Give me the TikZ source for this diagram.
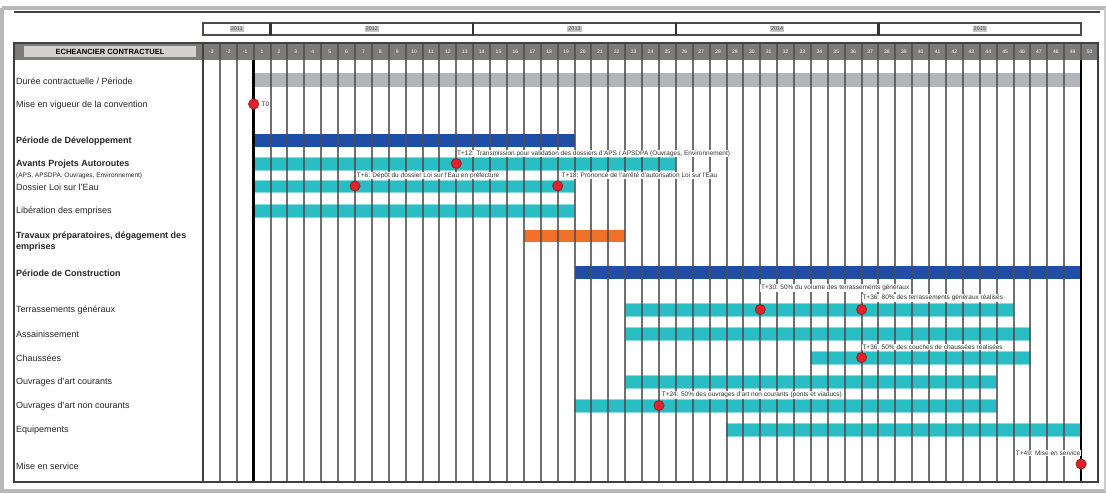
\documentclass[tikz,border=0pt]{standalone}
\usepackage{fontspec}
\setmainfont{Liberation Sans}
\definecolor{cyanbar}{RGB}{40,190,196}
\definecolor{bluebar}{RGB}{30,78,168}
\definecolor{orangebar}{RGB}{240,112,40}
\definecolor{graybar}{RGB}{178,182,186}
\definecolor{gridc}{RGB}{80,76,76}
\definecolor{dotred}{RGB}{228,32,45}
\definecolor{dotrim}{RGB}{150,40,40}
\definecolor{hdr}{RGB}{125,122,122}
\def\W{16.887}
\begin{document}
\begin{tikzpicture}[x=1pt,y=-1pt,
  lab/.style={anchor=west, inner sep=0, font=\fontsize{9}{11}\selectfont, text=black!85},
  labb/.style={lab, font=\fontsize{9}{11}\selectfont\bfseries},
  labs/.style={lab, font=\fontsize{6.5}{7}\selectfont},
  mlab/.style={anchor=west, inner sep=0.7, fill=white, font=\fontsize{6.5}{7}\selectfont, text=black!80},
  dot/.style={circle, minimum size=10, inner sep=0, fill=dotred, draw=dotrim, line width=1},
  gridline/.style={draw=gridc, line width=2, opacity=0.8},
  thickline/.style={draw=black, line width=2.4},
  framec/.style={draw=black!75, line width=2},
  mnum/.style={font=\fontsize{5}{5}\selectfont, text=white, inner sep=0},
  ylab/.style={font=\fontsize{5.5}{6}\selectfont, text=black!70, fill=gray!45, inner sep=1},
  cbar/.style={fill=cyanbar, draw=cyanbar!55, line width=1}]
\useasboundingbox (0,0) rectangle (1106,493);
% outer gray frame
\draw[gray!55, line width=4] (2,8) -- (1106,8);
\draw[gray!55, line width=4.5] (2,8) -- (2,493);
\draw[gray!55, line width=4] (0,491) -- (1106,491);
\draw[gray!40, line width=2] (1105,8) -- (1105,491);
% top line
\draw[framec, line width=1.5] (14,12) -- (1100,12);
% year bar
\draw[draw=black!70, line width=2, fill=white] (203,23) rectangle ({203+52*\W},35);
\foreach \k in {4,16,28,40}{
  \draw[black!80, line width=2.4] ({203+\k*\W},23) -- ({203+\k*\W},35);
}
\node[ylab] (y1) at ({203+2*\W},29) {2011};
\node[ylab] (y2) at ({203+10*\W},29) {2012};
\node[ylab] (y3) at ({203+22*\W},29) {2013};
\node[ylab] (y4) at ({203+34*\W},29) {2014};
\node[ylab] (y5) at ({203+46*\W},29) {2015};
% header row
\fill[hdr] (14,43) rectangle ({203+53*\W},60);
\node[fill=gray!35, inner sep=0, minimum height=11, minimum width=172, font=\fontsize{7.5}{8}\selectfont\bfseries, text=black] (hd) at (110,51.5) {ECHEANCIER CONTRACTUEL};
% bars
\fill[graybar] ({203+3*\W},73) rectangle ({203+52*\W},87);
\fill[bluebar] ({203+3*\W},134) rectangle ({203+22*\W},147);
\filldraw[cbar] ({203+3*\W},157) rectangle ({203+28*\W},170);
\filldraw[cbar] ({203+3*\W},180) rectangle ({203+22*\W},192);
\filldraw[cbar] ({203+3*\W},204) rectangle ({203+22*\W},217);
\fill[orangebar] ({203+19*\W},230) rectangle ({203+25*\W},242);
\fill[bluebar] ({203+22*\W},266) rectangle ({203+52*\W},279);
\filldraw[cbar] ({203+25*\W},303) rectangle ({203+48*\W},316);
\filldraw[cbar] ({203+25*\W},327) rectangle ({203+49*\W},340);
\filldraw[cbar] ({203+36*\W},351) rectangle ({203+49*\W},364);
\filldraw[cbar] ({203+25*\W},375) rectangle ({203+47*\W},388);
\filldraw[cbar] ({203+22*\W},399) rectangle ({203+47*\W},412);
\filldraw[cbar] ({203+31*\W},423) rectangle ({203+52*\W},436);
% grid lines
\foreach \k in {0,...,53}{
  \draw[gridline] ({203+\k*\W},43) -- ({203+\k*\W},482);
}
\draw[thickline] ({203+3*\W},60) -- ({203+3*\W},482);
\draw[thickline] ({203+52*\W},60) -- ({203+52*\W},482);
% month numbers
\foreach \k in {0,...,52}{
  \pgfmathtruncatemacro\m{\k<3 ? \k-3 : \k-2}
  \node[mnum] (m\k) at ({203+(\k+0.5)*\W},51.5) {\m};
}
% frame
\draw[framec] (14,43) rectangle ({203+53*\W},482);
\draw[framec] (203,43) -- (203,482);
% left labels
\node[lab] (l1) at (16,81) {Durée contractuelle / Période};
\node[lab] (l2) at (16,105) {Mise en vigueur de la convention};
\node[labb] (l3) at (16,141) {Période de Développement};
\node[labb] (l4) at (16,164) {Avants Projets Autoroutes};
\node[labs] (l4b) at (16,175.5) {(APS, APSDPA, Ouvrages, Environnement)};
\node[lab] (l5) at (16,187) {Dossier Loi sur l'Eau};
\node[lab] (l6) at (16,211) {Libération des emprises};
\node[labb, align=left] (l7) at (16,242) {Travaux préparatoires, dégagement des\\emprises};
\node[labb] (l8) at (16,273) {Période de Construction};
\node[lab] (l9) at (16,310) {Terrassements généraux};
\node[lab] (l10) at (16,334) {Assainissement};
\node[lab] (l11) at (16,358) {Chaussées};
\node[lab] (l12) at (16,382) {Ouvrages d'art courants};
\node[lab] (l13) at (16,406) {Ouvrages d'art non courants};
\node[lab] (l14) at (16,430) {Equipements};
\node[lab] (l15) at (16,466) {Mise en service};
% milestone labels
\node[mlab] (t0) at ({203+3*\W+7},104.5) {T0};
\node[mlab] (t12) at ({203+15*\W},153.5) {T+12: Transmission pour validation des dossiers d'APS / APSDPA (Ouvrages, Environnement)};
\node[mlab] (t6) at ({203+9*\W+1},175.5) {T+6: Dépôt du dossier Loi sur l'Eau en préfecture};
\node[mlab] (t18) at ({203+21*\W+3},175.5) {T+18: Prononcé de l'arrêté d'autorisation Loi sur l'Eau};
\node[mlab] (t30) at ({203+33*\W},288) {T+30: 50\% du volume des terrassements généraux};
\node[mlab] (t36) at ({203+39*\W},298) {T+36: 80\% des terrassements généraux réalisés};
\node[mlab] (t36c) at ({203+39*\W},347) {T+36: 50\% des couches de chaussées réalisées};
\node[mlab] (t24) at ({203+27*\W+2},395) {T+24: 50\% des ouvrages d'art non courants (ponts et viaducs)};
\node[mlab, anchor=east] (tms) at ({203+52*\W},453) {T+49: Mise en service};
% milestones
\node[dot] (d0) at ({203+3*\W},104) {};
\node[dot] (d12) at ({203+15*\W},163.5) {};
\node[dot] (d6) at ({203+9*\W},186) {};
\node[dot] (d18) at ({203+21*\W},186) {};
\node[dot] (d30) at ({203+33*\W},309.5) {};
\node[dot] (d36) at ({203+39*\W},309.5) {};
\node[dot] (d36c) at ({203+39*\W},357.5) {};
\node[dot] (d24) at ({203+27*\W},405.5) {};
\node[dot] (dms) at ({203+52*\W},464) {};
\end{tikzpicture}
\end{document}
